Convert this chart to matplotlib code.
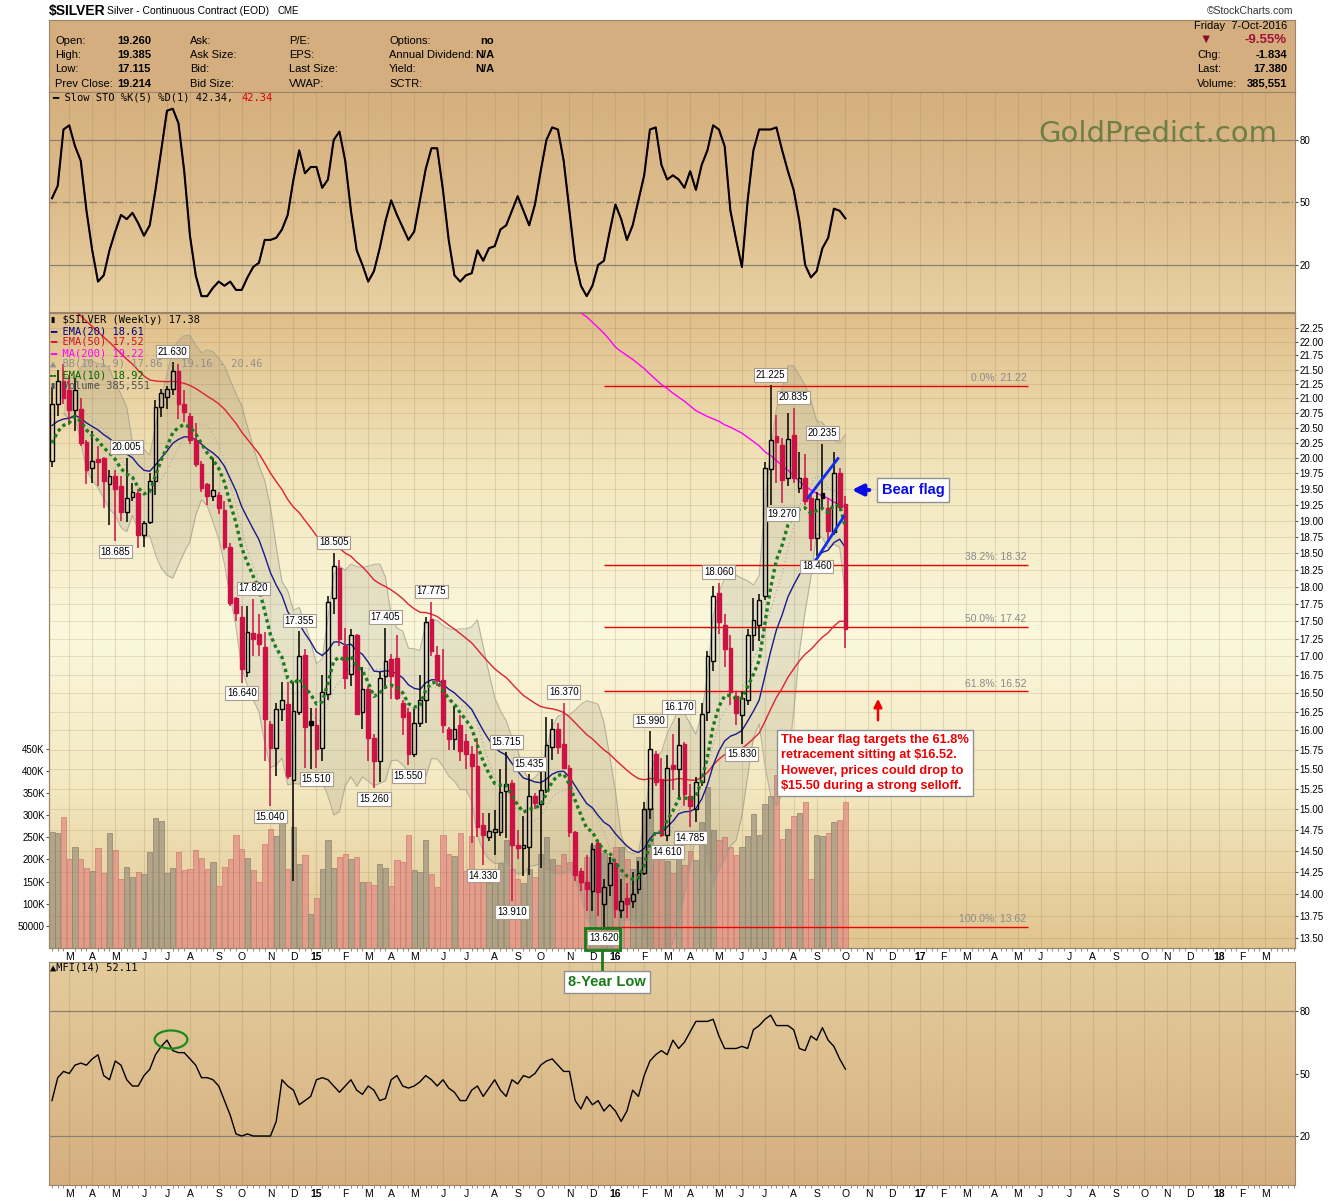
import numpy as np
import pandas as pd
import matplotlib
matplotlib.use("Agg")
import matplotlib.pyplot as plt
from matplotlib.colors import LinearSegmentedColormap
from matplotlib.patches import Ellipse, Rectangle
from matplotlib.lines import Line2D
import matplotlib.ticker as mticker

plt.rcParams['font.family'] = ['Liberation Sans', 'DejaVu Sans']

# weekly bars, the first one is the week ending Friday 14-Feb-2014
first_week = "2014-02-14"

opens = [19.95, 20.90, 21.30, 21.15, 20.80, 20.82, 20.27, 19.83, 19.98, 20.00,
         19.57, 19.70, 19.54, 19.14, 19.37, 19.43, 18.77, 18.98, 19.63, 20.85,
         21.03, 21.17, 21.48, 20.91, 20.70, 20.30, 19.90, 19.57, 19.38, 19.41,
         19.17, 18.59, 17.84, 17.56, 16.79, 17.33, 17.31, 17.13, 16.09, 15.77,
         16.29, 16.35, 15.37, 16.24, 17.02, 16.13, 16.07, 15.77, 16.48, 17.83,
         18.28, 17.14, 16.76, 17.30, 16.24, 16.55, 15.90, 15.61, 16.73, 16.97,
         16.98, 16.37, 16.25, 15.70, 16.10, 16.40, 17.53, 17.02, 16.68, 16.02,
         15.89, 16.07, 15.86, 15.70, 15.54, 14.81, 14.66, 14.72, 14.72, 15.23,
         15.33, 14.57, 14.53, 14.55, 15.17, 15.06, 15.24, 15.78, 16.02, 15.83,
         15.52, 14.72, 14.26, 14.13, 14.03, 14.59, 13.88, 14.10, 14.35, 13.81,
         13.95, 13.91, 14.05, 14.24, 15.00, 15.70, 15.38, 14.69, 15.56, 15.50,
         15.82, 15.16, 15.00, 15.34, 16.24, 16.93, 17.90, 17.45, 17.12, 16.46,
         16.21, 16.40, 17.30, 17.45, 17.86, 19.82, 20.37, 20.22, 19.67, 20.38,
         19.52, 19.67, 19.35, 18.73, 19.44, 19.19, 18.83, 19.76, 19.26]
highs = [21.20, 21.50, 21.60, 21.40, 21.35, 21.00, 20.30, 20.45, 20.20, 20.02,
         19.80, 19.80, 19.70, 20.005, 19.60, 19.50, 19.00, 19.75, 20.97, 21.17,
         21.22, 21.63, 21.60, 21.15, 20.75, 20.58, 19.95, 19.60, 20.00, 19.45,
         19.30, 18.65, 17.85, 17.71, 17.72, 17.82, 17.60, 17.35, 16.12, 16.36,
         16.65, 16.65, 16.65, 17.355, 17.10, 16.30, 16.30, 16.74, 17.86, 18.505,
         18.40, 17.40, 17.39, 17.32, 16.85, 16.60, 15.95, 16.78, 17.405, 17.04,
         17.30, 16.40, 16.30, 16.28, 16.75, 17.56, 17.775, 17.15, 17.10, 16.05,
         16.32, 16.20, 15.96, 15.80, 15.90, 14.96, 14.96, 14.99, 15.50, 15.715,
         15.36, 14.75, 14.92, 15.435, 15.20, 15.55, 16.18, 16.15, 16.10, 16.37,
         15.55, 14.74, 14.30, 14.45, 14.59, 14.61, 14.17, 14.42, 14.40, 14.17,
         14.12, 14.25, 14.38, 15.09, 15.99, 15.74, 15.65, 15.68, 15.96, 16.17,
         15.85, 15.32, 15.40, 16.37, 17.07, 18.01, 18.06, 17.60, 17.30, 16.51,
         16.51, 17.39, 17.83, 17.89, 19.93, 21.225, 20.72, 20.33, 20.75, 20.835,
         20.10, 20.07, 19.40, 19.45, 20.235, 19.35, 20.10, 19.83, 19.385]
lows = [19.85, 20.70, 20.90, 20.55, 20.45, 20.20, 19.57, 19.60, 19.55, 19.20,
        18.93, 18.685, 19.00, 18.98, 19.30, 18.58, 18.60, 18.95, 19.41, 20.68,
        20.82, 21.05, 20.65, 20.60, 20.23, 19.85, 19.45, 19.25, 19.30, 19.10,
        18.55, 17.72, 17.50, 16.64, 16.72, 17.00, 17.00, 15.60, 15.04, 15.42,
        16.13, 15.38, 14.15, 16.20, 15.52, 15.50, 15.51, 15.60, 16.40, 17.60,
        17.15, 16.55, 16.60, 16.20, 16.02, 15.60, 15.26, 15.34, 16.55, 16.42,
        16.40, 15.94, 15.55, 15.66, 16.05, 16.10, 17.00, 16.60, 15.97, 15.75,
        15.75, 15.60, 15.50, 14.59, 14.66, 14.33, 14.62, 14.45, 14.68, 14.65,
        13.91, 14.40, 14.20, 14.22, 15.00, 14.30, 15.20, 15.62, 15.70, 15.50,
        14.66, 14.14, 14.03, 13.80, 13.80, 13.75, 13.62, 13.97, 13.72, 13.72,
        13.72, 13.84, 14.00, 14.22, 14.88, 15.29, 14.66, 14.61, 15.24, 15.14,
        15.04, 14.785, 14.85, 15.29, 16.13, 16.80, 17.32, 16.85, 16.34, 16.07,
        15.83, 16.34, 17.07, 17.22, 17.80, 19.25, 19.60, 19.27, 19.55, 19.60,
        19.44, 19.25, 18.54, 18.46, 19.20, 18.68, 18.78, 19.15, 17.115]
closes = [20.90, 21.30, 21.00, 20.80, 21.15, 20.25, 19.80, 19.95, 19.93, 19.62,
          19.70, 19.50, 19.14, 19.35, 19.45, 18.77, 18.97, 19.63, 20.86, 21.10,
          21.16, 21.48, 20.91, 20.77, 20.30, 19.90, 19.51, 19.38, 19.48, 19.19,
          18.59, 17.76, 17.62, 16.82, 17.35, 17.24, 17.17, 16.15, 15.77, 16.29,
          16.41, 15.41, 16.26, 17.01, 16.04, 16.07, 15.76, 16.51, 17.77, 18.31,
          17.24, 16.70, 17.30, 16.22, 16.55, 15.90, 15.61, 16.70, 16.94, 16.73,
          16.43, 16.18, 15.70, 16.10, 16.41, 17.49, 17.07, 16.68, 16.07, 15.89,
          16.02, 15.73, 15.70, 15.54, 14.79, 14.69, 14.74, 14.76, 15.21, 15.31,
          14.57, 14.53, 14.57, 15.16, 15.08, 15.24, 15.81, 16.02, 15.78, 15.52,
          14.72, 14.21, 14.13, 14.05, 14.52, 14.02, 14.07, 14.36, 13.82, 13.91,
          13.88, 14.00, 14.24, 15.00, 15.76, 15.34, 14.69, 15.52, 15.50, 15.81,
          15.19, 15.04, 15.34, 16.22, 17.01, 17.86, 17.49, 17.10, 16.51, 16.23,
          16.43, 17.30, 17.51, 17.80, 19.83, 20.30, 20.26, 19.65, 20.31, 19.67,
          19.67, 19.31, 18.73, 19.34, 19.35, 18.84, 19.76, 19.214, 17.38]
# weekly volume, thousands of contracts
volume_k = [263, 259, 296, 201, 229, 201, 181, 173, 226, 169,
            261, 221, 157, 183, 160, 171, 167, 218, 293, 286,
            169, 180, 217, 176, 178, 221, 203, 178, 195, 141,
            183, 201, 255, 224, 203, 176, 150, 236, 270, 252,
            284, 178, 273, 189, 210, 77, 112, 178, 243, 181,
            206, 213, 201, 206, 149, 150, 143, 189, 181, 141,
            198, 195, 255, 176, 172, 243, 167, 137, 255, 213,
            208, 261, 173, 252, 173, 164, 146, 178, 192, 245,
            178, 157, 146, 178, 161, 213, 250, 201, 187, 213,
            195, 164, 146, 206, 233, 226, 215, 206, 229, 229,
            201, 178, 206, 312, 316, 210, 224, 196, 169, 233,
            187, 220, 198, 284, 363, 266, 243, 250, 229, 210,
            229, 254, 303, 256, 326, 344, 390, 247, 268, 298,
            305, 330, 155, 256, 252, 261, 284, 289, 330]
sto_k = [52, 58, 85, 87, 77, 70, 46, 27, 12, 15, 27, 36, 44, 42, 45, 40, 34, 39,
         56, 75, 94, 95, 88, 65, 34, 15, 5, 5, 9, 12, 10, 12, 8, 8, 14, 19, 21,
         32, 32, 33, 37, 44, 61, 75, 64, 67, 67, 57, 61, 80, 84, 70, 46, 27, 20,
         12, 17, 28, 41, 51, 44, 38, 32, 36, 51, 66, 76, 76, 56, 32, 15, 12, 15,
         16, 27, 22, 28, 29, 37, 39, 46, 53, 46, 39, 49, 65, 80, 86, 85, 70, 46,
         22, 10, 5, 10, 20, 22, 36, 49, 42, 32, 39, 51, 63, 85, 86, 68, 61, 63,
         61, 57, 65, 56, 68, 75, 87, 85, 77, 46, 32, 19, 51, 75, 85, 85, 85, 86,
         75, 65, 56, 41, 20, 14, 17, 28, 33, 47, 46, 42.34]
mfi14 = [37, 48, 51, 50, 54, 55, 54, 57, 59, 49,
         47, 56, 54, 47, 44, 44, 49, 52, 59, 63,
         66, 61, 60, 60, 57, 54, 48, 48, 47, 44,
         37, 30, 21, 20, 21, 20, 20, 20, 20, 27,
         47, 44, 42, 35, 37, 39, 47, 48, 47, 44,
         41, 44, 47, 42, 40, 44, 42, 37, 38, 47,
         49, 44, 43, 44, 46, 49, 47, 44, 47, 43,
         41, 37, 37, 42, 44, 39, 43, 47, 42, 39,
         47, 45, 49, 48, 50, 54, 56, 57, 54, 51,
         51, 37, 33, 39, 35, 37, 32, 35, 32, 27,
         32, 42, 39, 49, 56, 59, 61, 59, 66, 62,
         65, 70, 75, 75, 75, 76, 68, 62, 62, 62,
         63, 62, 71, 73, 76, 78, 73, 73, 73, 71,
         62, 61, 68, 66, 72, 66, 63, 57, 52.11]
# 200-week MA, only the visible tail (last value on the last bar)
ma200 = [22.62, 22.52, 22.45, 22.35, 22.25, 22.15, 22.03, 21.90, 21.82, 21.75,
         21.68, 21.60, 21.52, 21.42, 21.33, 21.24, 21.17, 21.09, 21.02, 20.95,
         20.87, 20.79, 20.74, 20.69, 20.65, 20.61, 20.55, 20.51, 20.46, 20.41,
         20.34, 20.27, 20.20, 20.10, 20.04, 19.96, 19.87, 19.80, 19.71, 19.62,
         19.54, 19.48, 19.43, 19.39, 19.35, 19.29, 19.25, 19.22]
# values carried in from before the first bar
ema10_seed, ema20_seed, ema50_seed = 20.1, 20.5, 22.9

fib_names = ["0.0%", "38.2%", "50.0%", "61.8%", "100.0%"]
fib_levels = [21.22, 18.32, 17.42, 16.52, 13.62]
fib_from_bar, fib_to_bar = 96, 169.7

high_label_bars = [13, 21, 35, 43, 49, 58, 66, 79, 83, 89, 104, 109, 116, 125, 129, 134]
low_label_bars = [11, 33, 38, 46, 56, 62, 75, 80, 96, 107, 111, 120, 127, 133]

# hand-drawn bear flag lines (bar, price)
flag_upper = [(131.5, 19.36), (136.7, 19.99)]
flag_lower = [(132.9, 18.40), (137.7, 19.06)]

price_ticks = np.arange(13.5, 22.26, 0.25)
vol_ticks = [50, 100, 150, 200, 250, 300, 350, 400, 450]

hdr_left = [("Open:", "19.260"), ("High:", "19.385"), ("Low:", "17.115"), ("Prev Close:", "19.214")]
hdr_mid1 = ["Ask:", "Ask Size:", "Bid:", "Bid Size:"]
hdr_mid2 = ["P/E:", "EPS:", "Last Size:", "VWAP:"]
hdr_mid3 = [("Options:", "no"), ("Annual Dividend:", "N/A"), ("Yield:", "N/A"), ("SCTR:", "")]
hdr_right = [("Chg:", "-1.834"), ("Last:", "17.380"), ("Volume:", "385,551")]

W, H = 1340, 1200


def fx(px):
    return px / W


def fy(py):
    return 1 - py / H


def ema(vals, span, seed):
    a = 2.0 / (span + 1)
    out, prev = [], seed
    for v in vals:
        prev = prev + a * (v - prev)
        out.append(prev)
    return np.array(out)


def background(ax, cols):
    cmap = LinearSegmentedColormap.from_list("bg", cols)
    grad = np.linspace(0, 1, 256).reshape(-1, 1)
    ax.imshow(grad, cmap=cmap, extent=[0, 1, 0, 1], transform=ax.transAxes,
              aspect="auto", origin="upper", zorder=0)


n = len(closes)
idx = np.arange(n)
o, h, l, c = map(np.array, (opens, highs, lows, closes))
prev_c = np.concatenate([[o[0]], c[:-1]])

RED = "#CC1144"
SPINE = "#9C8468"
GRID = (0.55, 0.45, 0.3, 0.2)
MONO = ["DejaVu Sans Mono", "DejaVu Sans"]

weeks = pd.date_range(first_week, periods=216, freq="W-FRI")
month_pos, month_lbl = [], []
for k in range(1, len(weeks)):
    if weeks[k].month != weeks[k - 1].month:
        month_pos.append(k)
        m = weeks[k].month
        month_lbl.append(f"{weeks[k].year % 100}" if m == 1 else "JFMAMJJASOND"[m - 1])
xlo, xhi = -0.52, 216.2

fig = plt.figure(figsize=(13.4, 12), dpi=100, facecolor="white")
left, width = fx(49), (1295 - 49) / W

# ---------------- header box ----------------
ax_hdr = fig.add_axes([left, fy(92), width, 72 / H])
ax_hdr.set_facecolor("#D4AE7E")
ax_hdr.set_xticks([]); ax_hdr.set_yticks([])
for s in ax_hdr.spines.values():
    s.set_color(SPINE)

fig.text(fx(49), fy(11), "$SILVER", weight="bold", size=10, va="center")
fig.text(fx(107), fy(11), "Silver - Continuous Contract (EOD)", size=7.5, va="center")
fig.text(fx(277), fy(11), "CME", size=7, va="center")
fig.text(fx(1293), fy(11), "\u00a9StockCharts.com", size=7.5, va="center", ha="right", color="#333333")

rows_y = [41, 55, 69, 84]
for (lab, val), y in zip(hdr_left, rows_y):
    fig.text(fx(55), fy(y), lab, size=8, va="center")
    fig.text(fx(117), fy(y), val, size=8, va="center", weight="bold")
for lab, y in zip(hdr_mid1, rows_y):
    fig.text(fx(190), fy(y), lab, size=8, va="center")
for lab, y in zip(hdr_mid2, rows_y):
    fig.text(fx(289), fy(y), lab, size=8, va="center")
for (lab, val), y in zip(hdr_mid3, rows_y):
    fig.text(fx(389), fy(y), lab, size=8, va="center")
    fig.text(fx(494), fy(y), val, size=8, va="center", ha="right", weight="bold")
fig.text(fx(1287), fy(26), "Friday  7-Oct-2016", size=8, va="center", ha="right")
fig.text(fx(1206), fy(40), "\u25BC", size=9, va="center", ha="center", color="#8B0A2A")
fig.text(fx(1287), fy(40), "-9.55%", size=9.5, va="center", ha="right", weight="bold", color="#A0103A")
for (lab, val), y in zip(hdr_right, rows_y[1:]):
    fig.text(fx(1197), fy(y), lab, size=8, va="center")
    fig.text(fx(1287), fy(y), val, size=8, va="center", ha="right", weight="bold")

# ---------------- main price panel (volume underneath) ----------------
ax_v = fig.add_axes([left, fy(948), width, 635 / H])
background(ax_v, ["#E0BF8A", "#F2E6BC", "#FBF8DD", "#F3E8C0", "#E1C48F"])
ax_v.vlines(month_pos, 0, 1, transform=ax_v.get_xaxis_transform(), colors=[GRID], lw=0.8, zorder=1)
vol_up = c >= prev_c
ax_v.bar(idx, volume_k, width=0.92, color=np.where(vol_up, "#A89C84", "#E2978A"),
         edgecolor=np.where(vol_up, "#8E846F", "#CF7D6E"), linewidth=0.6, alpha=0.85, zorder=2)
ax_v.set_ylim(0, 1435)
ax_v.set_yticks(vol_ticks)
ax_v.set_yticklabels(["50000" if v == 50 else f"{v}K" for v in vol_ticks])
ax_v.tick_params(axis="y", labelsize=7, length=2, pad=1, colors="#555555", labelcolor="black")

ax = ax_v.twinx()
ax.set_yscale("log")
ax.set_ylim(13.39, 22.52)
ax.set_xlim(xlo, xhi)
ax.yaxis.set_major_locator(mticker.FixedLocator(price_ticks))
ax.yaxis.set_major_formatter(mticker.FuncFormatter(lambda v, p: f"{v:.2f}"))
ax.yaxis.set_minor_locator(mticker.NullLocator())
ax.tick_params(axis="y", labelsize=7, length=2, pad=1, colors="#555555", labelcolor="black")
ax.set_axisbelow(True)
ax.grid(axis="y", color=(0.55, 0.45, 0.3), alpha=0.18, lw=0.7)

# Bollinger band and averages
s = pd.Series(c)
bb_mid = s.rolling(10, min_periods=3).mean()
bb_sd = s.rolling(10, min_periods=3).std(ddof=0)
bb_up, bb_lo = bb_mid + 1.9 * bb_sd, bb_mid - 1.9 * bb_sd
ax.fill_between(idx, bb_lo, bb_up, color=(0.45, 0.45, 0.38), alpha=0.15, lw=0, zorder=1)
ax.plot(idx, bb_up, color=(0.62, 0.62, 0.56), lw=0.8, alpha=0.7, zorder=1)
ax.plot(idx, bb_lo, color=(0.62, 0.62, 0.56), lw=0.8, alpha=0.7, zorder=1)
ax.plot(idx, bb_mid, color="#B4B2A6", lw=0.9, ls=(0, (1, 2)), zorder=2)

ax.plot(idx, ema(c, 50, ema50_seed), color="#DD2233", lw=1.0, zorder=3)
ax.plot(idx, ema(c, 20, ema20_seed), color="#1A1A8A", lw=1.0, zorder=3)
ma_x = np.arange(n - len(ma200), n)
ax.plot(ma_x, ma200, color="#FF00FF", lw=1.0, zorder=3)

# Fibonacci retracement
for name, lev in zip(fib_names, fib_levels):
    ax.hlines(lev, fib_from_bar, fib_to_bar, color="#EE0000", lw=1.0, zorder=2)
    ax.annotate(f"{name}: {lev:.2f}", xy=(fib_to_bar, lev), xytext=(-1, 2), textcoords="offset points",
                ha="right", va="bottom", size=7.5, color="#8A8A8A", zorder=3)

# candles
cand_col = np.where(c < prev_c, RED, "#000000")
body_lo = np.minimum(o, c)
body_hi = np.maximum(np.maximum(o, c), body_lo * 1.0015)
ax.vlines(idx, body_hi, h, colors=cand_col, lw=1.1, zorder=5)
ax.vlines(idx, l, body_lo, colors=cand_col, lw=1.1, zorder=5)
faces = [col if cc < oo else "none" for col, cc, oo in zip(cand_col, c, o)]
ax.bar(idx, body_hi - body_lo, bottom=body_lo, width=0.66, color=faces,
       edgecolor=cand_col, linewidth=1.0, zorder=5)

ax.plot(idx, ema(c, 10, ema10_seed), color="#1E7A1E", lw=2.4, ls=(0, (1, 1)), zorder=6)

# high / low tags
tag = dict(boxstyle="square,pad=0.18", fc="white", ec="#A89C8C", lw=0.8)
for i in high_label_bars:
    ax.annotate(f"{h[i]:.3f}", xy=(i, h[i]), xytext=(0, 4), textcoords="offset points",
                ha="center", va="bottom", size=7, bbox=tag, zorder=8)
for i in low_label_bars:
    ax.annotate(f"{l[i]:.3f}", xy=(i, l[i]), xytext=(0, -4), textcoords="offset points",
                ha="center", va="top", size=7, bbox=tag, zorder=8)

# bear flag lines
for seg in (flag_upper, flag_lower):
    ax.plot([p[0] for p in seg], [p[1] for p in seg], color="#1030F0", lw=2.0, zorder=7)

for a in (ax, ax_v):
    for sp in a.spines.values():
        sp.set_color(SPINE)

ax_v.set_xlim(xlo, xhi)
ax_v.set_xticks(month_pos)
ax_v.set_xticklabels(month_lbl)
ax_v.set_xticks(np.arange(0, 217), minor=True)
ax_v.tick_params(axis="x", which="major", length=0, labelsize=7.5, pad=3)
ax_v.tick_params(axis="x", which="minor", length=2, color="#777777")

# legend block
fig.text(fx(50), fy(320), "\u25AE $SILVER (Weekly) 17.38", size=7.5, family=MONO, va="center")
legend_rows = [("\u2501 EMA(20) 18.61", "#000080"), ("\u2501 EMA(50) 17.52", "#D0102C"),
               ("\u2501 MA(200) 19.22", "#FF00FF"), ("\u25B2 BB(10,1.9) 17.86 - 19.16 - 20.46", "#909090"),
               ("\u254D EMA(10) 18.92", "#006400"), ("\u25AE Volume 385,551", "#505050")]
for k, (txt, col) in enumerate(legend_rows):
    fig.text(fx(50), fy(331 + 11 * k), txt, size=7.5, family=MONO, va="center", color=col)

# ---------------- stochastic panel ----------------
ax_sto = fig.add_axes([left, fy(312), width, 220 / H], sharex=ax_v)
background(ax_sto, ["#D6B07F", "#DDBC8B", "#E8D1A4"])
ax_sto.vlines(month_pos, 0, 1, transform=ax_sto.get_xaxis_transform(), colors=[GRID], lw=0.8, zorder=1)
ax_sto.axhline(80, color="#8A8070", lw=0.9, zorder=2)
ax_sto.axhline(20, color="#8A8070", lw=0.9, zorder=2)
ax_sto.axhline(50, color="#8A8070", lw=0.9, ls="-.", zorder=2)
sto_x = np.arange(n - len(sto_k), n)
ax_sto.plot(sto_x, sto_k, color=RED, lw=1.0, zorder=3)
ax_sto.plot(sto_x, sto_k, color="black", lw=1.5, zorder=4)
ax_sto.set_ylim(-2.6, 103)
ax_sto.yaxis.tick_right()
ax_sto.set_yticks([20, 50, 80])
ax_sto.tick_params(axis="y", labelsize=7, length=2, pad=1, colors="#555555", labelcolor="black")
ax_sto.tick_params(axis="x", which="both", labelbottom=False, bottom=False)
for sp in ax_sto.spines.values():
    sp.set_color(SPINE)
fig.text(fx(52), fy(98), "\u2501 Slow STO %K(5) %D(1) 42.34,", size=7.5, family=MONO, va="center")
fig.text(fx(241), fy(98), "42.34", size=7.5, family=MONO, va="center", color="#E00000")
fig.text(fx(1277), fy(134), "GoldPredict.com", size=21, family="DejaVu Sans", ha="right",
         va="center", color="#6E7F45")

# ---------------- MFI panel ----------------
ax_mfi = fig.add_axes([left, fy(1185), width, 223 / H], sharex=ax_v)
background(ax_mfi, ["#E4CB9C", "#DDBE8E", "#D5AE7E"])
ax_mfi.vlines(month_pos, 0, 1, transform=ax_mfi.get_xaxis_transform(), colors=[GRID], lw=0.8, zorder=1)
ax_mfi.axhline(80, color="#8A8070", lw=0.9, zorder=2)
ax_mfi.axhline(20, color="#8A8070", lw=0.9, zorder=2)
mfi_x = np.arange(n - len(mfi14), n)
ax_mfi.plot(mfi_x, mfi14, color="black", lw=1.0, zorder=3)
ax_mfi.set_ylim(-3.5, 103.5)
ax_mfi.yaxis.tick_right()
ax_mfi.set_yticks([20, 50, 80])
ax_mfi.tick_params(axis="y", labelsize=7, length=2, pad=1, colors="#555555", labelcolor="black")
ax_mfi.set_xticks(month_pos)
ax_mfi.set_xticklabels(month_lbl)
ax_mfi.tick_params(axis="x", which="major", length=0, labelsize=7.5, pad=3, labelbottom=True)
ax_mfi.tick_params(axis="x", which="minor", length=2, color="#777777")
for sp in ax_mfi.spines.values():
    sp.set_color(SPINE)
ax_mfi.add_patch(Ellipse((20.7, 66.3), 5.7, 8.7, fill=False, ec="#1A8A1A", lw=1.6, zorder=5))
fig.text(fx(50), fy(968), "\u25B2MFI(14) 52.11", size=7.5, family=MONO, va="center")

for a in (ax_v, ax_mfi):
    for t in a.get_xticklabels():
        if t.get_text().isdigit():
            t.set_fontweight("bold")

ax.set_xlim(xlo, xhi)

# ---------------- annotations ----------------
fig.text(fx(913), fy(490), "Bear flag", size=10.5, weight="bold", color="#0A0AE6", ha="center", va="center",
         bbox=dict(boxstyle="square,pad=0.35", fc="white", ec="#909090", lw=1))
ax.annotate("", xy=(fx(849), fy(490)), xytext=(fx(872), fy(490)), xycoords="figure fraction",
            arrowprops=dict(arrowstyle="-|>", color="#0A0AE6", lw=3, mutation_scale=16))
fig.text(fx(781), fy(763),
         "The bear flag targets the 61.8%\nretracement sitting at $16.52.\nHowever, prices could drop to\n$15.50 during a strong selloff.",
         size=9.2, weight="bold", color="#EE0000", ha="left", va="center", linespacing=1.35,
         bbox=dict(boxstyle="square,pad=0.35", fc="white", ec="#909090", lw=1))
ax.annotate("", xy=(fx(878), fy(696)), xytext=(fx(878), fy(723)), xycoords="figure fraction",
            arrowprops=dict(arrowstyle="-|>", color="#EE0000", lw=1.8, mutation_scale=12))
fig.add_artist(Rectangle((fx(585), fy(950)), 35 / W, 22 / H, transform=fig.transFigure,
                         fill=False, ec="#1A7A1A", lw=2))
fig.add_artist(Line2D([fx(602), fx(602)], [fy(950), fy(970)], transform=fig.transFigure,
                      color="#1A7A1A", lw=2))
fig.text(fx(607), fy(982), "8-Year Low", size=10.5, weight="bold", color="#1A7A1A", ha="center", va="center",
         bbox=dict(boxstyle="square,pad=0.3", fc="white", ec="#909090", lw=1))

fig.savefig("out.png", dpi=100, facecolor="white")
